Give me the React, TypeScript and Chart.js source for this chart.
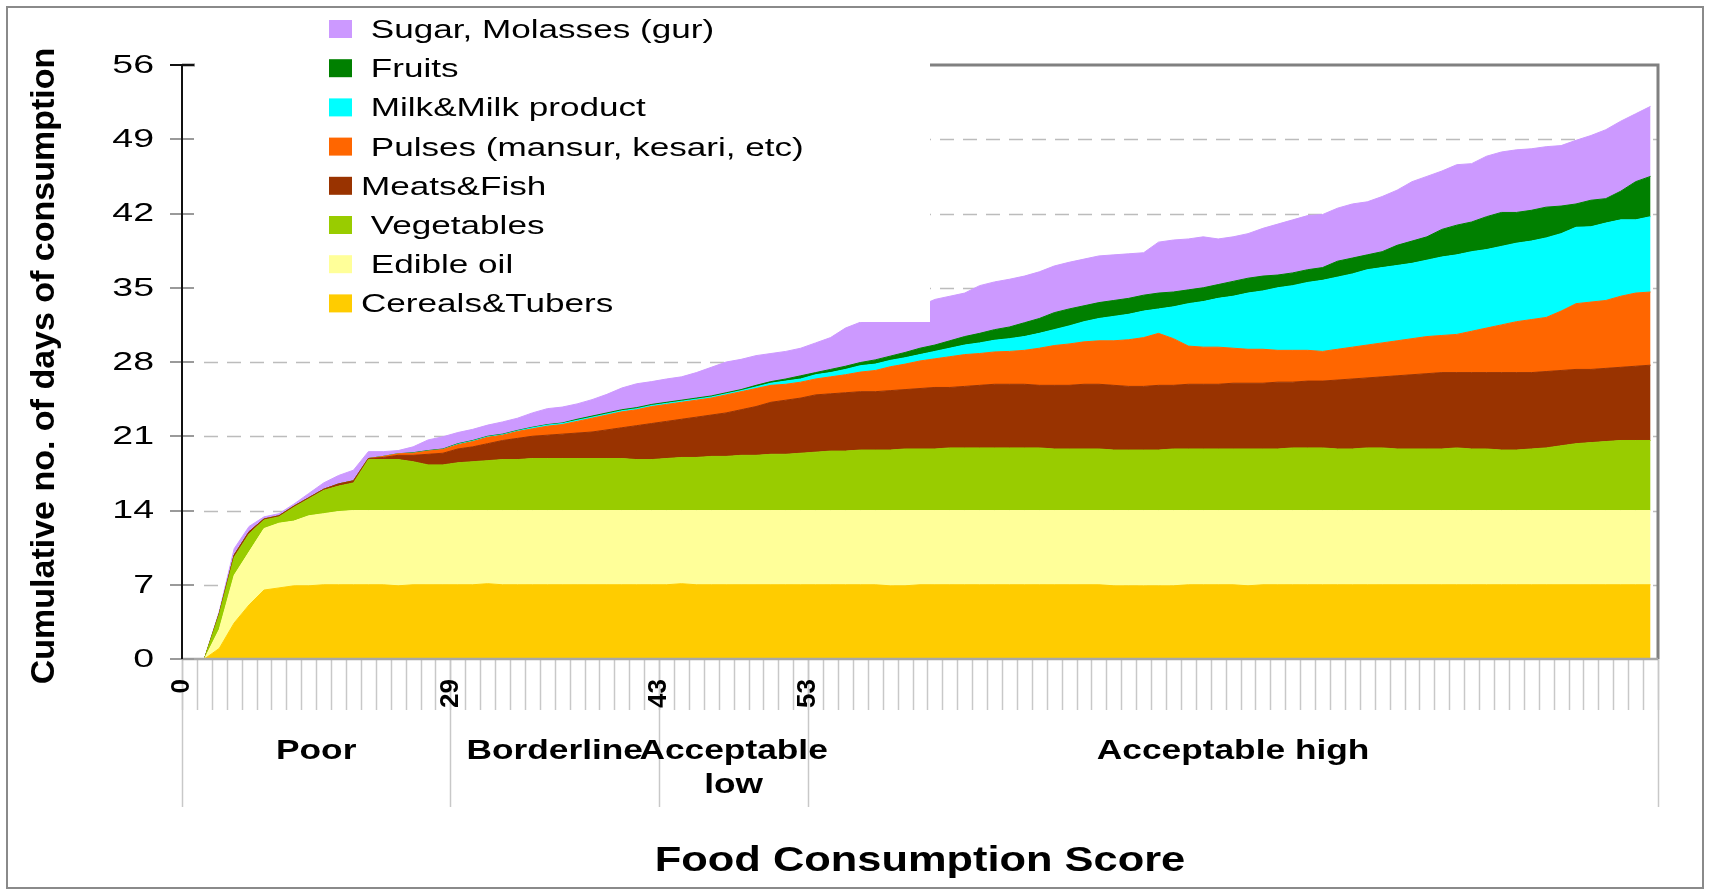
import React, { useEffect, useRef } from 'react';
import { Chart, registerables } from 'chart.js';

Chart.register(...registerables);

// 99 household groups, ordered by Food Consumption Score
const categories: string[] = Array.from({ length: 99 }, (_, i) => String(i + 1));

const cerealsTubers = [
  0, 0, 1.0, 3.4, 5.1, 6.5, 6.7, 6.9, 6.9, 7.0,
  7.0, 7.0, 7.0, 7.0, 6.9, 7.0, 7.0, 7.0, 7.0, 7.0,
  7.1, 7.0, 7.0, 7.0, 7.0, 7.0, 7.0, 7.0, 7.0, 7.0,
  7.0, 7.0, 7.0, 7.1, 7.0, 7.0, 7.0, 7.0, 7.0, 7.0,
  7.0, 7.0, 7.0, 7.0, 7.0, 7.0, 7.0, 6.9, 6.9, 7.0,
  7.0, 7.0, 7.0, 7.0, 7.0, 7.0, 7.0, 7.0, 7.0, 7.0,
  7.0, 7.0, 6.9, 6.9, 6.9, 6.9, 6.9, 7.0, 7.0, 7.0,
  7.0, 6.9, 7.0, 7.0, 7.0, 7.0, 7.0, 7.0, 7.0, 7.0,
  7.0, 7.0, 7.0, 7.0, 7.0, 7.0, 7.0, 7.0, 7.0, 7.0,
  7.0, 7.0, 7.0, 7.0, 7.0, 7.0, 7.0, 7.0, 7.0,
];
const edibleOil = [
  0, 0, 1.8, 4.5, 5.0, 5.8, 6.1, 6.1, 6.6, 6.7,
  6.9, 7.0, 7.0, 7.0, 7.1, 7.0, 7.0, 7.0, 7.0, 7.0,
  6.9, 7.0, 7.0, 7.0, 7.0, 7.0, 7.0, 7.0, 7.0, 7.0,
  7.0, 7.0, 7.0, 6.9, 7.0, 7.0, 7.0, 7.0, 7.0, 7.0,
  7.0, 7.0, 7.0, 7.0, 7.0, 7.0, 7.0, 7.1, 7.1, 7.0,
  7.0, 7.0, 7.0, 7.0, 7.0, 7.0, 7.0, 7.0, 7.0, 7.0,
  7.0, 7.0, 7.1, 7.1, 7.1, 7.1, 7.1, 7.0, 7.0, 7.0,
  7.0, 7.1, 7.0, 7.0, 7.0, 7.0, 7.0, 7.0, 7.0, 7.0,
  7.0, 7.0, 7.0, 7.0, 7.0, 7.0, 7.0, 7.0, 7.0, 7.0,
  7.0, 7.0, 7.0, 7.0, 7.0, 7.0, 7.0, 7.0, 7.0,
];
const vegetables = [
  0, 0, 1.4, 1.7, 1.7, 0.8, 0.6, 1.3, 1.6, 2.2,
  2.4, 2.6, 4.8, 4.8, 4.8, 4.6, 4.3, 4.3, 4.5, 4.6,
  4.7, 4.8, 4.8, 4.9, 4.9, 4.9, 4.9, 4.9, 4.9, 4.9,
  4.8, 4.8, 4.9, 5.0, 5.0, 5.1, 5.1, 5.2, 5.2, 5.3,
  5.3, 5.4, 5.5, 5.6, 5.6, 5.7, 5.7, 5.7, 5.8, 5.8,
  5.8, 5.9, 5.9, 5.9, 5.9, 5.9, 5.9, 5.9, 5.8, 5.8,
  5.8, 5.8, 5.7, 5.7, 5.7, 5.7, 5.8, 5.8, 5.8, 5.8,
  5.8, 5.8, 5.8, 5.8, 5.9, 5.9, 5.9, 5.8, 5.8, 5.9,
  5.9, 5.8, 5.8, 5.8, 5.8, 5.9, 5.8, 5.8, 5.7, 5.7,
  5.8, 5.9, 6.1, 6.3, 6.4, 6.5, 6.6, 6.6, 6.6,
];
const meatsFish = [
  0, 0, 0.1, 0.2, 0.2, 0.1, 0.1, 0.1, 0.1, 0.1,
  0.2, 0.2, 0.1, 0.2, 0.4, 0.6, 1.0, 1.1, 1.3, 1.4,
  1.6, 1.8, 2.0, 2.1, 2.2, 2.3, 2.4, 2.5, 2.7, 2.9,
  3.2, 3.4, 3.5, 3.6, 3.8, 3.9, 4.1, 4.3, 4.6, 4.9,
  5.1, 5.2, 5.4, 5.4, 5.5, 5.5, 5.5, 5.6, 5.6, 5.7,
  5.8, 5.7, 5.8, 5.9, 6.0, 6.0, 6.0, 5.9, 6.0, 6.0,
  6.1, 6.1, 6.1, 6.0, 6.0, 6.1, 6.0, 6.1, 6.1, 6.1,
  6.2, 6.2, 6.2, 6.3, 6.2, 6.3, 6.3, 6.5, 6.6, 6.6,
  6.7, 6.9, 7.0, 7.1, 7.2, 7.1, 7.2, 7.2, 7.3, 7.3,
  7.2, 7.2, 7.1, 7.0, 6.9, 6.9, 6.9, 7.0, 7.1,
];
const pulses = [
  0, 0, 0, 0, 0, 0, 0, 0, 0, 0,
  0, 0, 0, 0.1, 0.15, 0.2, 0.3, 0.35, 0.4, 0.5,
  0.6, 0.5, 0.65, 0.7, 0.85, 0.9, 1.1, 1.3, 1.4, 1.5,
  1.5, 1.6, 1.6, 1.6, 1.6, 1.6, 1.7, 1.7, 1.7, 1.6,
  1.5, 1.5, 1.5, 1.6, 1.7, 1.85, 2.0, 2.25, 2.4, 2.6,
  2.7, 2.9, 3.0, 3.0, 3.05, 3.1, 3.2, 3.5, 3.75, 3.9,
  4.0, 4.1, 4.2, 4.4, 4.6, 4.9, 4.4, 3.6, 3.5, 3.5,
  3.3, 3.2, 3.2, 3.0, 3.0, 2.9, 2.8, 2.9, 3.0, 3.1,
  3.2, 3.3, 3.4, 3.5, 3.5, 3.6, 3.9, 4.2, 4.5, 4.8,
  5.0, 5.1, 5.6, 6.2, 6.35, 6.4, 6.7, 6.9, 6.9,
];
const milkProducts = [
  0, 0, 0, 0, 0, 0, 0, 0, 0, 0,
  0, 0, 0, 0, 0, 0, 0, 0, 0.05, 0.05,
  0.05, 0.05, 0.05, 0.1, 0.1, 0.1, 0.1, 0.1, 0.1, 0.1,
  0.1, 0.1, 0.1, 0.1, 0.1, 0.1, 0.1, 0.1, 0.15, 0.2,
  0.3, 0.3, 0.4, 0.4, 0.5, 0.6, 0.6, 0.6, 0.6, 0.6,
  0.7, 0.8, 0.9, 1.0, 1.1, 1.2, 1.3, 1.4, 1.5, 1.7,
  1.9, 2.1, 2.3, 2.4, 2.5, 2.3, 3.0, 4.0, 4.3, 4.6,
  4.9, 5.3, 5.5, 5.9, 6.1, 6.4, 6.7, 6.8, 6.9, 7.1,
  7.1, 7.1, 7.1, 7.2, 7.4, 7.5, 7.5, 7.4, 7.4, 7.4,
  7.4, 7.5, 7.3, 7.2, 7.1, 7.3, 7.2, 6.9, 7.1,
];
const fruits = [
  0, 0, 0, 0, 0, 0, 0, 0, 0, 0,
  0, 0, 0, 0, 0, 0.05, 0.05, 0.05, 0.05, 0.05,
  0.05, 0.05, 0.05, 0.05, 0.05, 0.05, 0.1, 0.1, 0.1, 0.1,
  0.1, 0.1, 0.1, 0.1, 0.1, 0.1, 0.1, 0.1, 0.15, 0.15,
  0.2, 0.3, 0.2, 0.3, 0.3, 0.3, 0.4, 0.4, 0.5, 0.6,
  0.6, 0.7, 0.8, 0.9, 1.0, 1.1, 1.3, 1.4, 1.6, 1.6,
  1.5, 1.5, 1.5, 1.5, 1.5, 1.5, 1.4, 1.3, 1.3, 1.3,
  1.4, 1.4, 1.4, 1.2, 1.2, 1.2, 1.2, 1.5, 1.5, 1.4,
  1.5, 1.9, 2.1, 2.2, 2.6, 2.8, 2.8, 3.1, 3.2, 2.9,
  2.9, 2.9, 2.6, 2.2, 2.5, 2.3, 2.7, 3.6, 3.8,
];
const sugarMolasses = [
  0, 0, 0.2, 0.6, 0.5, 0.2, 0.2, 0.2, 0.4, 0.6,
  0.8, 1.0, 0.65, 0.45, 0.3, 0.55, 1.0, 1.15, 1.05, 1.05,
  1.05, 1.15, 1.15, 1.35, 1.5, 1.5, 1.45, 1.55, 1.75, 2.05,
  2.25, 2.15, 2.2, 2.2, 2.4, 2.7, 2.9, 2.85, 2.8, 2.65,
  2.6, 2.6, 2.8, 3.0, 3.6, 3.8, 3.8, 3.8, 3.7, 4.0,
  4.3, 4.2, 4.1, 4.5, 4.5, 4.5, 4.4, 4.4, 4.4, 4.4,
  4.4, 4.4, 4.3, 4.2, 4.0, 4.8, 4.9, 4.8, 4.8, 4.3,
  4.2, 4.2, 4.5, 4.8, 5.0, 5.1, 5.0, 5.0, 5.1, 5.0,
  5.2, 5.2, 5.6, 5.7, 5.5, 5.7, 5.5, 5.7, 5.7, 5.9,
  5.8, 5.7, 5.7, 6.0, 6.1, 6.5, 6.6, 6.4, 6.6,
];

// bottom-to-top stacking order (labels as in the original legend)
const seriesLabels = [
  'Cereals&Tubers',
  ' Edible oil',
  ' Vegetables',
  'Meats&Fish',
  ' Pulses (mansur, kesari, etc)',
  ' Milk&Milk product',
  ' Fruits',
  ' Sugar, Molasses (gur)',
];
const seriesColors = ['#FFCC00', '#FFFF99', '#99CC00', '#993300', '#FF6600', '#00FFFF', '#008000', '#CC99FF'];
const seriesValues = [cerealsTubers, edibleOil, vegetables, meatsFish, pulses, milkProducts, fruits, sugarMolasses];

const yMin = 0;
const yMax = 56;
const yStep = 7;

const xTickLabels = ['0', '29', '43', '53'];
const xTickBoundaries = [0, 18, 32, 42];
const groupNames = [['Poor'], ['Borderline'], ['Acceptable', 'low'], ['Acceptable high']];
const groupBoundaries = [0, 18, 32, 42, 99];

const xTitle = 'Food Consumption Score';
const yTitle = 'Cumulative no. of days of consumption';

const W = 1710;
const H = 892;
const SANS = '"Liberation Sans", Arial, sans-serif';

function drawText(
  ctx: CanvasRenderingContext2D,
  text: string,
  x: number,
  y: number,
  font: string,
  opt: { sx?: number; rot?: number; align?: CanvasTextAlign; baseline?: CanvasTextBaseline; color?: string } = {}
) {
  ctx.save();
  ctx.translate(x, y);
  ctx.scale(opt.sx ?? 1, 1);
  if (opt.rot) ctx.rotate(opt.rot);
  ctx.font = font;
  ctx.fillStyle = opt.color ?? '#000';
  ctx.textAlign = opt.align ?? 'left';
  ctx.textBaseline = opt.baseline ?? 'alphabetic';
  ctx.fillText(text, 0, 0);
  ctx.restore();
}

const decorPlugin = {
  id: 'fcsDecor',
  beforeDraw(chart: any) {
    const ctx: CanvasRenderingContext2D = chart.ctx;
    ctx.save();
    ctx.fillStyle = '#fff';
    ctx.fillRect(0, 0, W, H);
    ctx.strokeStyle = '#8a8a8a';
    ctx.lineWidth = 2;
    ctx.strokeRect(7, 7, W - 14, H - 11);
    ctx.restore();
  },
  beforeDatasetsDraw(chart: any) {
    const ctx: CanvasRenderingContext2D = chart.ctx;
    const { left, right } = chart.chartArea;
    const ys = chart.scales.y;
    ctx.save();
    ctx.strokeStyle = '#bcbcbc';
    ctx.lineWidth = 1.5;
    ctx.setLineDash([14, 9]);
    for (let v = yMin + yStep; v < yMax; v += yStep) {
      const y = Math.round(ys.getPixelForValue(v)) + 0.5;
      ctx.beginPath();
      ctx.moveTo(left + 22, y);
      ctx.lineTo(right, y);
      ctx.stroke();
    }
    ctx.restore();
  },
  afterDatasetsDraw(chart: any) {
    const ctx: CanvasRenderingContext2D = chart.ctx;
    const { left, right, top, bottom } = chart.chartArea;
    const xs = chart.scales.x;
    const ys = chart.scales.y;
    const bx = (b: number) => xs.getPixelForValue(b - 0.5);

    ctx.save();
    // plot frame (top / right)
    ctx.strokeStyle = '#808080';
    ctx.lineWidth = 3;
    ctx.beginPath();
    ctx.moveTo(left, top);
    ctx.lineTo(right, top);
    ctx.lineTo(right, bottom);
    ctx.stroke();

    // x tick marks and group separators
    ctx.strokeStyle = '#c8c8c8';
    ctx.lineWidth = 1.5;
    for (let b = 0; b <= categories.length; b++) {
      const x = Math.round(bx(b)) + 0.5;
      ctx.beginPath();
      ctx.moveTo(x, bottom);
      ctx.lineTo(x, bottom + 51);
      ctx.stroke();
    }
    for (const b of groupBoundaries) {
      const x = Math.round(bx(b)) + 0.5;
      ctx.beginPath();
      ctx.moveTo(x, bottom);
      ctx.lineTo(x, bottom + 148);
      ctx.stroke();
    }

    // x axis line
    ctx.strokeStyle = '#a8a8a8';
    ctx.lineWidth = 2.5;
    ctx.beginPath();
    ctx.moveTo(left, bottom);
    ctx.lineTo(right, bottom);
    ctx.stroke();

    // y tick stubs
    ctx.strokeStyle = '#9a9a9a';
    ctx.lineWidth = 2;
    for (let v = yMin; v <= yMax; v += yStep) {
      const y = Math.round(ys.getPixelForValue(v));
      ctx.beginPath();
      ctx.moveTo(left - 12, y);
      ctx.lineTo(left + 12, y);
      ctx.stroke();
    }
    // y axis line
    ctx.strokeStyle = '#111';
    ctx.lineWidth = 2;
    ctx.beginPath();
    ctx.moveTo(left, top);
    ctx.lineTo(left, bottom);
    ctx.stroke();
    ctx.beginPath();
    ctx.moveTo(left - 12, top);
    ctx.lineTo(left + 12, top);
    ctx.stroke();

    // y tick labels
    for (let v = yMin; v <= yMax; v += yStep) {
      drawText(ctx, String(v), left - 28, ys.getPixelForValue(v) + 1, `25px ${SANS}`, {
        sx: 1.5,
        align: 'right',
        baseline: 'middle',
      });
    }

    // x tick labels (rotated)
    xTickLabels.forEach((lab, k) => {
      drawText(ctx, lab, bx(xTickBoundaries[k]), bottom + 20, `bold 26px ${SANS}`, {
        rot: -Math.PI / 2,
        align: 'right',
        baseline: 'middle',
      });
    });

    // group names
    groupNames.forEach((lines, k) => {
      const cx = (bx(groupBoundaries[k]) + bx(groupBoundaries[k + 1])) / 2;
      lines.forEach((line, j) => {
        drawText(ctx, line, cx, bottom + 92 + j * 34, `bold 28px ${SANS}`, {
          sx: 1.26,
          align: 'center',
          baseline: 'middle',
        });
      });
    });

    // axis titles
    drawText(ctx, xTitle, (left + right) / 2, 861, `bold 35px ${SANS}`, {
      sx: 1.24,
      align: 'center',
      baseline: 'middle',
    });
    drawText(ctx, yTitle, 45, (top + bottom) / 2 + 4, `bold 34px ${SANS}`, {
      rot: -Math.PI / 2,
      align: 'center',
      baseline: 'middle',
    });

    // legend box (covers the upper-left part of the plot)
    ctx.fillStyle = '#fff';
    ctx.fillRect(left + 13, 9, 930 - (left + 13), 322 - 9);
    const n = chart.data.datasets.length;
    for (let r = 0; r < n; r++) {
      const ds = chart.data.datasets[n - 1 - r];
      const base = 38 + r * 39.2;
      ctx.fillStyle = ds.backgroundColor;
      ctx.fillRect(329, base - 18, 23, 18);
      drawText(ctx, ds.label, 361, base, `26px ${SANS}`, { sx: 1.35 });
    }
    ctx.restore();
  },
};

export default function App() {
  const canvasRef = useRef<HTMLCanvasElement | null>(null);

  useEffect(() => {
    const canvas = canvasRef.current;
    if (!canvas) return;
    const chart = new Chart(canvas, {
      type: 'line',
      data: {
        labels: categories,
        datasets: seriesValues.map((vals, i) => ({
          label: seriesLabels[i],
          data: vals,
          backgroundColor: seriesColors[i],
          borderColor: seriesColors[i],
          borderWidth: 1,
          pointRadius: 0,
          tension: 0,
          fill: i === 0 ? 'origin' : '-1',
        })),
      },
      options: {
        responsive: false,
        maintainAspectRatio: false,
        animation: false,
        events: [],
        layout: { padding: { left: 0, right: 52, top: 65, bottom: 0 } },
        plugins: {
          legend: { display: false },
          tooltip: { enabled: false },
          title: { display: false },
        },
        scales: {
          x: {
            type: 'category',
            offset: true,
            grid: { display: false },
            border: { display: false },
            ticks: { display: false },
            afterFit: (s: any) => {
              s.height = 233;
            },
          },
          y: {
            stacked: true,
            min: yMin,
            max: yMax,
            grid: { display: false },
            border: { display: false },
            ticks: { display: false, stepSize: yStep },
            afterFit: (s: any) => {
              s.width = 182;
            },
          },
        },
      },
      plugins: [decorPlugin],
    } as any);
    return () => chart.destroy();
  }, []);

  return (
    <div style={{ position: 'absolute', left: 0, top: 0, width: W, height: H, background: '#fff' }}>
      <canvas ref={canvasRef} width={W} height={H} style={{ display: 'block' }} />
    </div>
  );
}
